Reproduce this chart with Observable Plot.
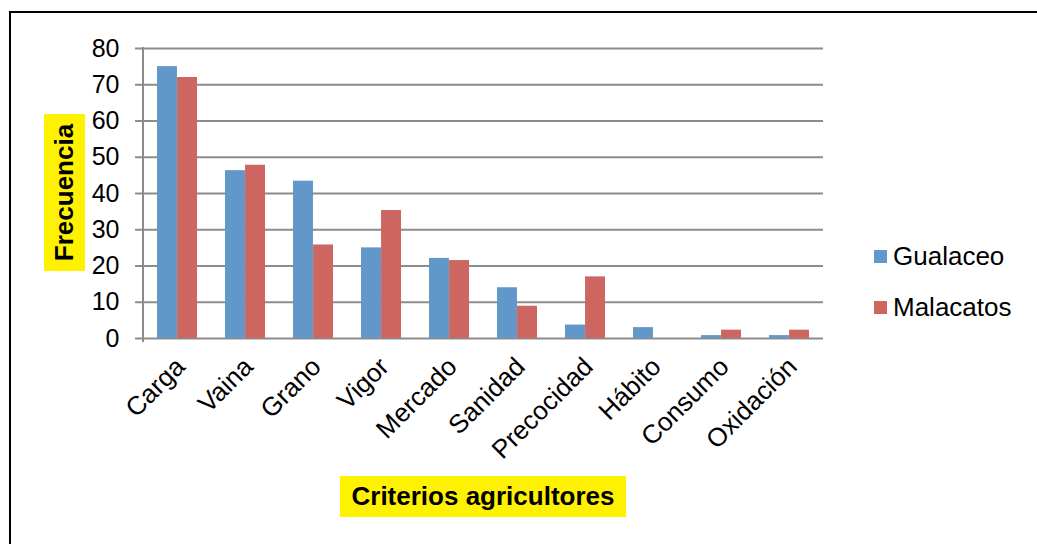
<!DOCTYPE html>
<html>
<head>
<meta charset="utf-8">
<script src="https://cdn.jsdelivr.net/npm/d3@7"></script>
<script src="https://cdn.jsdelivr.net/npm/@observablehq/plot@0.6"></script>
<style>
  html, body { margin: 0; padding: 0; background: #fff; overflow: hidden; }
  #wrap { position: relative; width: 1037px; height: 544px; overflow: hidden; font-family: "Liberation Sans", Arial, sans-serif; }
  #frame { position: absolute; left: 9px; top: 11px; width: 1200px; height: 800px; border: 2px solid #000; box-sizing: border-box; }
  #chart { position: absolute; left: 0; top: 0; }
  .lab { position: absolute; background: #fff200; font-weight: bold; font-size: 26px; color: #000; display: flex; align-items: center; justify-content: center; white-space: nowrap; }
  #ylab { left: -14px; top: 172px; width: 157px; height: 41px; transform: rotate(-90deg); }
  #xlab { left: 340px; top: 476px; width: 286px; height: 41px; }
  .leg { position: absolute; font-size: 26px; color: #000; display: flex; align-items: center; }
  .sw { width: 13px; height: 13px; margin-right: 6px; }
</style>
</head>
<body>
<div id="wrap">
  <div id="frame"></div>
  <div id="chart"></div>
  <div class="lab" id="ylab">Frecuencia</div>
  <div class="lab" id="xlab">Criterios agricultores</div>
  <div id="legend"></div>
</div>
<script>
const categories = ["Carga", "Vaina", "Grano", "Vigor", "Mercado", "Sanidad", "Precocidad", "Hábito", "Consumo", "Oxidación"];
const gualaceo = [75, 46.3, 43.4, 25, 22.1, 14, 3.7, 3, 0.8, 0.8];
const malacatos = [72, 47.8, 25.8, 35.3, 21.5, 8.9, 17, 0, 2.3, 2.3];
const seriesNames = ["Gualaceo", "Malacatos"];
const seriesColors = ["#6297c9", "#cd6661"];
const yTicks = [0, 10, 20, 30, 40, 50, 60, 70, 80];

const rowsG = categories.map((c, i) => ({category: c, value: gualaceo[i]}));
const rowsM = categories.map((c, i) => ({category: c, value: malacatos[i]}));

const gridColor = "#8c8c8c";

// vertical axis line at the left edge of the frame
function leftAxisLine(index, scales, values, dims) {
  const ns = "http://www.w3.org/2000/svg";
  const line = document.createElementNS(ns, "line");
  const x = dims.marginLeft;
  line.setAttribute("x1", x);
  line.setAttribute("x2", x);
  line.setAttribute("y1", scales.y(80) - 1);
  line.setAttribute("y2", scales.y(0) + 4);
  line.setAttribute("stroke", gridColor);
  line.setAttribute("stroke-width", 2);
  return line;
}

const chart = Plot.plot({
  width: 1037,
  height: 470,
  marginLeft: 143,
  marginRight: 214,
  marginTop: 48,
  marginBottom: 132,
  style: {fontFamily: "Liberation Sans, Arial, sans-serif", fontSize: "24px", color: "#000", background: "transparent"},
  x: {domain: categories, paddingInner: 0.41, paddingOuter: 0.205, label: null},
  y: {domain: [0, 80], label: null},
  marks: [
    Plot.ruleY(yTicks, {stroke: gridColor, strokeWidth: 2}),
    Plot.barY(rowsG, {x: "category", y: "value", fill: seriesColors[0], insetRight: 20.05}),
    Plot.barY(rowsM, {x: "category", y: "value", fill: seriesColors[1], insetLeft: 20.05}),
    leftAxisLine,
    Plot.axisY({ticks: yTicks, tickSize: 8, tickPadding: 16, stroke: gridColor, strokeWidth: 2, fontSize: 25, fill: "#000"}),
    Plot.axisX({tickSize: 0, tickRotate: -45, tickPadding: 24, dx: 3, fontSize: 26, fill: "#000"})
  ]
});
document.getElementById("chart").appendChild(chart);

const legend = document.getElementById("legend");
seriesNames.forEach((name, i) => {
  const d = document.createElement("div");
  d.className = "leg";
  d.style.left = "874px";
  d.style.top = (240 + i * 51) + "px";
  d.style.height = "32px";
  const sw = document.createElement("div");
  sw.className = "sw";
  sw.style.background = seriesColors[i];
  d.appendChild(sw);
  d.appendChild(document.createTextNode(name));
  legend.appendChild(d);
});
</script>
</body>
</html>
